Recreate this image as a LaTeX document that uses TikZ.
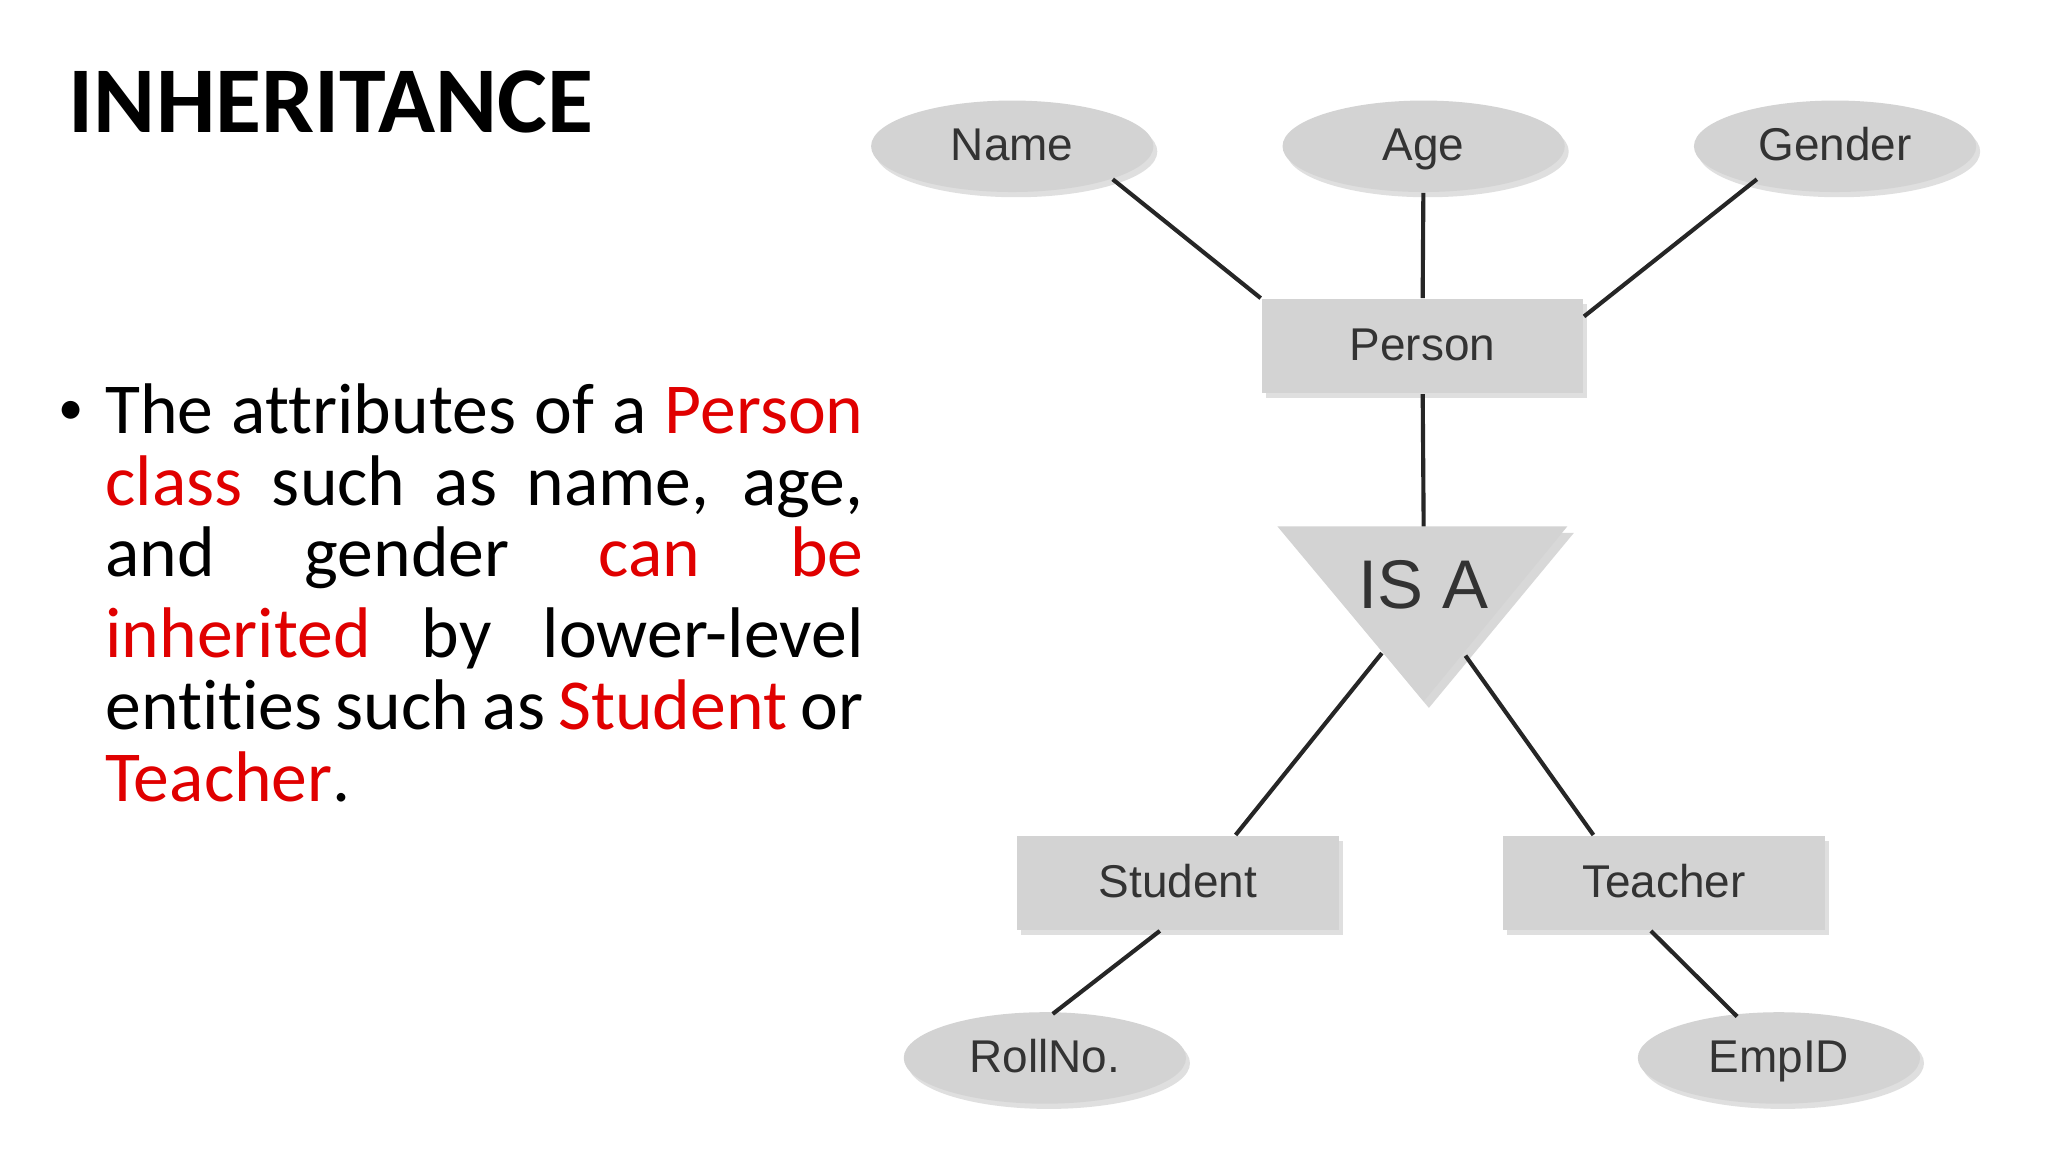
\documentclass[tikz,border=0pt]{standalone}
\usepackage{fontspec}
\setmainfont{Carlito}[Ligatures=NoCommon]
\newfontfamily\diag{Liberation Sans}
\usetikzlibrary{shapes.geometric,shadows}
\definecolor{boxgray}{HTML}{D3D3D3}
\definecolor{txtgray}{HTML}{333333}
\definecolor{hl}{HTML}{E00000}
\begin{document}
\begin{tikzpicture}[x=0.01cm,y=-0.01cm,
  attr/.style={ellipse,fill=boxgray,minimum width=2.16cm,minimum height=0.7cm,inner sep=0pt,text height=1.6ex,text depth=0.3ex,drop shadow={opacity=0.25,shadow xshift=0.03cm,shadow yshift=-0.04cm},font=\diag\fontsize{10}{12}\selectfont,text=txtgray},
  ent/.style={rectangle,fill=boxgray,minimum width=2.46cm,minimum height=0.72cm,inner sep=0pt,text height=1.6ex,text depth=0.3ex,drop shadow={opacity=0.25,shadow xshift=0.03cm,shadow yshift=-0.04cm},font=\diag\fontsize{10}{12}\selectfont,text=txtgray},
  conn/.style={draw=black!85,line width=0.9pt}]
\useasboundingbox (0,0) rectangle (1568,882);
\fill[white] (0,0) rectangle (1568,882);
\node[anchor=west,font=\bfseries\fontsize{20.5}{24}\selectfont,inner sep=0pt] (title) at (52,78) {INHERITANCE};
\node[anchor=north west,text width=5.8cm,align=justify,font=\fontsize{15.6}{15.6}\selectfont,inner sep=0pt] (body) at (80,293)
 {\makebox[0pt][r]{\fontsize{11}{11}\selectfont\raisebox{0.35ex}{\textbullet}\hspace{0.17cm}}The attributes of a \textcolor{hl}{Person}\linebreak
 \textcolor{hl}{class} such as name, age,\linebreak
 and gender \textcolor{hl}{can be}\linebreak
 \rule{0pt}{14pt}\textcolor{hl}{inherited} by lower-level\linebreak
 entities such as \textcolor{hl}{Student} or\linebreak
 \textcolor{hl}{Teacher}.\par};
% diagram
\node[attr] (name) at (775,112) {Name};
\node[attr] (age) at (1090,112) {Age};
\node[attr] (gender) at (1405,112) {Gender};
\node[ent] (person) at (1089,265) {Person};
\coordinate (isatl) at (978,403);
\coordinate (isatr) at (1200,403);
\coordinate (isab) at (1090,537);
\coordinate (isatop) at (1090,403);
\fill[black!25,opacity=0.6] (983,408) -- (1205,408) -- (1094,542) -- cycle;
\fill[boxgray] (isatl) -- (isatr) -- (isab) -- cycle;
\node[font=\diag\fontsize{15}{17}\selectfont,text=txtgray] (isa) at (1090,448) {IS A};
\node[ent] (student) at (902,676) {Student};
\node[ent] (teacher) at (1274,676) {Teacher};
\node[attr] (roll) at (800,810) {RollNo.};
\node[attr] (emp) at (1362,810) {EmpID};
\coordinate (sl) at (1058,500);
\coordinate (tl) at (1122,502);
\draw[conn] (name.south east) -- (person.north west);
\draw[conn] (age) -- (person);
\draw[conn] ([xshift=0.17cm]gender.south west) -- ([yshift=-0.14cm]person.north east);
\draw[conn] (person) -- (isatop);
\draw[conn] (sl) -- ([xshift=0.44cm]student.north);
\draw[conn] (tl) -- ([xshift=-0.54cm]teacher.north);
\draw[conn] ([xshift=-0.14cm]student.south) -- ([xshift=0.06cm,yshift=-0.02cm]roll.north);
\draw[conn] ([xshift=-0.1cm]teacher.south) -- ([xshift=-0.32cm,yshift=-0.04cm]emp.north);
\end{tikzpicture}
\end{document}
